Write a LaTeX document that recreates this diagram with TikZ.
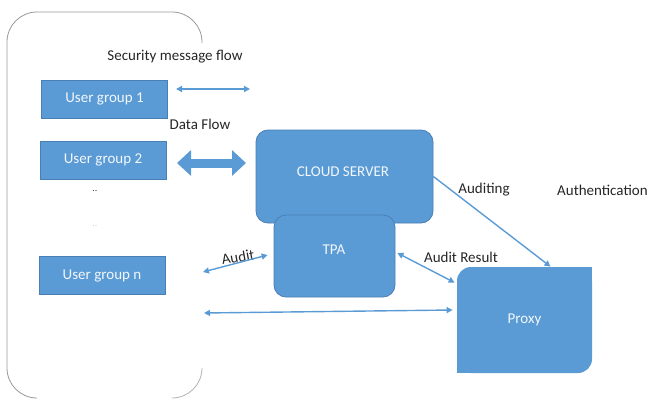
\documentclass[tikz,border=0pt]{standalone}
\usepackage{fontspec}
\setmainfont{Carlito}
\usetikzlibrary{calc, positioning}
\usetikzlibrary{arrows.meta}
\definecolor{boxblue}{HTML}{5B9BD5}
\definecolor{boxline}{HTML}{4A7FB5}
\definecolor{flowblue}{HTML}{5B9BD5}

\begin{document}
\begin{tikzpicture}[x=1pt,y=-1pt,
  box/.style={fill=boxblue, draw=boxline, line width=0.8pt, text=white!92!boxblue,
    font=\fontsize{15}{18}\selectfont, inner sep=0pt},
  grp/.style={box, minimum width=126pt, minimum height=38pt},
  lbl/.style={font=\fontsize{15}{18}\selectfont, text=black!85, inner sep=0pt},
  flow/.style={draw=flowblue, line width=1.4pt,
    {Triangle[length=6pt,width=6pt]}-{Triangle[length=6pt,width=6pt]}}]
\useasboundingbox (0,0) rectangle (654,404);
% user side frame
\draw[gray!80, line width=0.8pt, rounded corners=30pt]
  (202,43) -- (202,12) -- (7,12) -- (7,398) -- (37,398);
\draw[gray!60, line width=0.8pt, rounded corners=30pt]
  (172,398) -- (202,398) -- (202,368);
% user groups
\foreach \g/\x/\y/\lab in {G1/104.5/99/User group 1, G2/103/160/User group 2, Gn/102/275.5/User group n}{
  \node[grp] (\g) at (\x,\y) {\lab};
}
\node[lbl, text=black!75, font=\fontsize{10}{11}\selectfont] (D1) at (95,191) {..};
\node[lbl, text=black!20, font=\fontsize{10}{11}\selectfont] (D2) at (95,226) {..};
% servers
\node[box, rounded corners=12pt, minimum width=177pt, minimum height=93pt] (CS) at (344.5,176.5) {};
\node[lbl, text=white!92!boxblue] (CSt) at (343,172) {CLOUD SERVER};
\node[box, rounded corners=12pt, minimum width=121pt, minimum height=82pt] (TPA) at (334.5,256) {};
\node[lbl, text=white!92!boxblue] (TPAt) at (334,250) {TPA};
% proxy: round top-left and bottom-right only
\def\pxl{457}\def\pxr{592}\def\pxt{267}\def\pxb{373}
\fill[boxblue, rounded corners=14pt] (\pxl,\pxt) rectangle (\pxr,\pxb);
\fill[boxblue] (524.5,\pxt) rectangle (\pxr,320);
\fill[boxblue] (\pxl,320) rectangle (524.5,\pxb);
\node[box, fill=none, draw=none, minimum width=135pt, minimum height=106pt] (PX) at (524.5,320) {Proxy};
% labels
\node[lbl] (sec) at (175,57) {Security message flow};
\node[lbl] (data) at (200,124) {Data Flow};
\node[lbl] (aud) at (484,190) {Auditing};
\node[lbl, anchor=west] (auth) at (557,190) {Authentication};
\node[lbl] (ares) at (461,257) {Audit Result};
\node[lbl, rotate=10] (au) at (238,257) {Audit};
% flows
\coordinate (SL) at (176,89);
\coordinate (SR) at (250,89);
\coordinate (DL) at (177,163);
\coordinate (DR) at (246,163);
\coordinate (AL) at (203,272);
\coordinate (BL) at (204,313);
\draw[flow] (SL) -- (SR);
\draw[draw=flowblue, line width=9pt,
  {Triangle[length=14pt,width=25pt]}-{Triangle[length=14pt,width=25pt]}] (DL) -- (DR);
\draw[flow] (AL) -- ([xshift=-6pt,yshift=1pt]TPA.west);
\draw[flow, -{Triangle[length=6pt,width=6pt]}] (CS.east) -- ([xshift=26pt]PX.north);
\draw[flow] ([xshift=2pt,yshift=3pt]TPA.east) -- ([xshift=-2pt,yshift=-16pt]PX.north west);
\draw[flow] (BL) -- ([xshift=-4pt,yshift=10pt]PX.west);
\end{tikzpicture}
\end{document}
